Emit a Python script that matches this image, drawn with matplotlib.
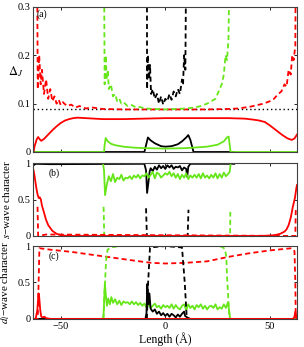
import matplotlib
matplotlib.use('Agg')
import matplotlib.pyplot as plt

plt.rcParams['font.family'] = ['Liberation Serif', 'DejaVu Serif']
plt.rcParams['mathtext.fontset'] = 'stix'

RED = '#ff0000'
GREEN = '#66e619'
BLACK = '#000000'

# ---- panel (a): gap amplitude ----
a_red_dash_x = [-61.3, -61, -60.3, -59.6, -59, -58, -57, -56, -55, -54, -53, -52, -51, -50, -49, -47, -45,
                -43, -41, -38, -35, -30, -20, -10, 0, 10, 20, 30, 35, 38, 41, 44, 47, 50, 52, 54, 55.5,
                57, 58, 59, 60, 60.7, 61.4, 62.2, 62.4]
a_red_dash_y = [0.4, 0.13, 0.2, 0.14, 0.17, 0.12, 0.15, 0.11, 0.13, 0.105, 0.115, 0.1, 0.108, 0.097, 0.103,
                0.095, 0.098, 0.092, 0.095, 0.09, 0.092, 0.089, 0.088, 0.088, 0.088, 0.088, 0.088, 0.089,
                0.09, 0.092, 0.094, 0.097, 0.1, 0.105, 0.11, 0.12, 0.125, 0.14, 0.135, 0.17, 0.16, 0.2,
                0.19, 0.22, 0.4]
a_green_dash_x = [-29.3, -29, -28.5, -28, -27.5, -27, -26, -25, -24, -23, -22, -21, -20, -18, -16, -14, -12,
                  -10, -5, 0, 5, 10, 14, 17, 20, 22, 24, 26, 27, 28, 28.8, 29.5, 30.2, 30.8]
a_green_dash_y = [0.4, 0.14, 0.2, 0.15, 0.17, 0.13, 0.14, 0.115, 0.12, 0.105, 0.11, 0.1, 0.103, 0.095, 0.097,
                  0.092, 0.093, 0.09, 0.089, 0.088, 0.089, 0.09, 0.092, 0.095, 0.1, 0.105, 0.11, 0.13, 0.14,
                  0.16, 0.2, 0.19, 0.23, 0.4]
a_black_dash_x = [-8.8, -8.7, -8.3, -7.8, -7.3, -6.8, -6, -5, -4, -3, -2, -1, 0, 1, 2, 3, 4, 5, 6, 7, 8,
                  8.5, 9, 9.6, 10]
a_black_dash_y = [0.4, 0.13, 0.2, 0.15, 0.18, 0.12, 0.13, 0.11, 0.12, 0.1, 0.115, 0.098, 0.11, 0.105, 0.12,
                  0.108, 0.125, 0.115, 0.13, 0.12, 0.15, 0.14, 0.2, 0.17, 0.4]
a_red_x = [-63, -62.5, -61.5, -60.8, -60, -59.3, -58, -56, -54, -52, -50, -48, -46, -44, -42, -38, -30, -20,
           -10, 0, 10, 20, 30, 38, 42, 45, 47.6, 50, 53, 56, 58.5, 60.5, 61.8, 63]
a_red_y = [0, 0.012, 0.026, 0.031, 0.026, 0.023, 0.027, 0.036, 0.045, 0.053, 0.06, 0.065, 0.068, 0.07,
           0.071, 0.07, 0.068, 0.068, 0.069, 0.07, 0.07, 0.07, 0.07, 0.069, 0.067, 0.065, 0.062, 0.055,
           0.045, 0.035, 0.028, 0.025, 0.028, 0.036]
a_green_x = [-63, -29.3, -29, -28.5, -27.5, -26, -24, -20, -15, -10, 0, 10, 20, 25, 28, 29.5, 30.3, 30.8,
             31.2, 63]
a_green_y = [0, 0, 0.015, 0.029, 0.022, 0.017, 0.014, 0.011, 0.009, 0.008, 0.007, 0.008, 0.011, 0.015,
             0.022, 0.03, 0.032, 0.015, 0, 0]
a_black_x = [-63, -10, -8.3, -7, -5, -2, 0, 3, 6, 8, 10, 11, 12, 13.5, 33]
a_black_y = [0, 0, 0.03, 0.024, 0.018, 0.012, 0.011, 0.012, 0.016, 0.022, 0.03, 0.035, 0.025, 0, 0]
a_ref_level = 0.088

# ---- panel (b): s-wave character ----
b_green_x = [-63, -29.8, -29.3, -28.8, -28, -27, -26, -25, -24, -23, -22, -21, -20, -19, -18, -17, -16,
             -15, -14, -13, -12, -11, -10, -9, -8, -7, -6, -5, -4, -3, -2, 0, 1, 2, 3, 4, 5, 6, 7, 8, 9,
             10, 11, 12, 13, 14, 15, 16, 17, 18, 19, 20, 21, 22, 23, 24, 25, 26, 27, 28, 29, 30, 30.8,
             31.3, 63]
b_green_y = [1, 1, 0.9, 0.56, 0.7, 0.82, 0.75, 0.85, 0.74, 0.8, 0.78, 0.84, 0.76, 0.8, 0.79, 0.82, 0.78,
             0.83, 0.8, 0.84, 0.79, 0.83, 0.82, 0.86, 0.8, 0.84, 0.88, 0.79, 0.87, 0.85, 0.8, 0.86, 0.84,
             0.88, 0.82, 0.86, 0.8, 0.85, 0.78, 0.84, 0.8, 0.86, 0.78, 0.83, 0.8, 0.84, 0.8, 0.85, 0.79,
             0.86, 0.8, 0.83, 0.79, 0.84, 0.8, 0.86, 0.79, 0.85, 0.8, 0.87, 0.82, 0.85, 0.88, 1, 1]
b_black_x = [-63, -62, -55, -10, -9.2, -8.7, -8, -7.5, -7, -6, -5, -4, -3, -2, -1, 0, 1, 2, 3, 4, 5, 6, 7,
             8, 9, 10, 10.5, 11, 12, 33]
b_black_y = [0.97, 0.99, 0.985, 0.99, 0.9, 0.59, 0.75, 0.88, 0.93, 0.89, 0.95, 0.91, 0.97, 0.93, 0.96,
             0.92, 0.97, 0.94, 0.97, 0.92, 0.95, 0.94, 0.96, 0.9, 0.94, 0.92, 0.81, 0.95, 0.99, 0.99]
b_red_x = [-63, -62.5, -62, -61.5, -61, -60.5, -60, -59.5, -59, -58, -57, -56, -55, -54, -52, -50, -48,
           -45, 45, 50, 53, 55, 57, 58, 59, 60, 61, 62, 62.7, 63]
b_red_y = [0.9, 0.82, 0.72, 0.63, 0.56, 0.52, 0.53, 0.5, 0.42, 0.32, 0.22, 0.15, 0.11, 0.07, 0.03, 0.01,
           0.004, 0, 0, 0.005, 0.015, 0.03, 0.06, 0.09, 0.15, 0.25, 0.4, 0.52, 0.66, 0.7]
b_red_dash_x = [-61.1, -60.8, -57, 60, 62.2, 62.4]
b_red_dash_y = [0.4, 0, 0.02, 0, 0, 0.36]
b_green_dash_x = [-29.5, -29.2, 29, 31, 31.1]
b_green_dash_y = [0.4, 0, 0, 0, 0.33]
b_black_dash_x = [-9.2, -8.8, 10.7, 11.1]
b_black_dash_y = [0.38, 0, 0, 0.36]

# ---- panel (c): d-wave character ----
c_red_dash_x = [-63, -61, -60.5, -60.2, -55, -45, -35, -25, -15, -7, 0, 10, 20, 30, 40, 50, 57, 60.5,
                61.8, 62.2, 62.4, 63]
c_red_dash_y = [0, 0, 0.6, 0.97, 0.95, 0.92, 0.88, 0.84, 0.8, 0.77, 0.76, 0.77, 0.79, 0.85, 0.9, 0.94,
                0.96, 0.97, 0.93, 0.5, 0.02, 0]
c_green_dash_x = [-29.6, -29, -28.3, -27.6, -26, -22, 0, 25, 27, 28.5, 29.2, 29.5, 30.5, 31]
c_green_dash_y = [0, 0.4, 0.8, 0.95, 0.98, 1.0, 1.0, 1.0, 0.99, 0.96, 0.85, 0.6, 0.1, 0]
c_black_dash_x = [-8.8, -8.2, -7.3, 0, 8, 9.3, 10.3]
c_black_dash_y = [0, 0.5, 0.98, 1.0, 0.98, 0.5, 0]
c_red_x = [-62, -61.2, -60.6, -60.3, -59.8, -59.3, -58.6, -57.8, -57, -55, 61, 61.7, 62.2, 62.7, 63]
c_red_y = [0, 0.12, 0.35, 0.3, 0.12, 0.03, 0.02, 0.03, 0.01, 0, 0, 0.02, 0.1, 0.04, 0]
c_green_x = [-63, -29.6, -29.3, -28.9, -28.4, -27.9, -27.3, -26.5, -25.8, -25, -24, -23, -22, -21, -20,
             -19, -18, -17, -16, -15, -14, -13, -12, -11, -10, -9, -8, -7, -6, -5, -4, -3, -2, -1, 0, 1,
             2, 3, 4, 5, 6, 7, 8, 9, 10, 11, 12, 13, 14, 15, 16, 17, 18, 19, 20, 21, 22, 23, 24, 25, 26,
             27, 28, 29, 30, 30.5, 31, 63]
c_green_y = [0, 0, 0.2, 0.48, 0.32, 0.18, 0.28, 0.2, 0.3, 0.22, 0.27, 0.2, 0.25, 0.19, 0.24, 0.22, 0.23,
             0.2, 0.24, 0.2, 0.23, 0.19, 0.22, 0.18, 0.21, 0.16, 0.2, 0.15, 0.18, 0.21, 0.16, 0.18, 0.14,
             0.19, 0.16, 0.18, 0.15, 0.2, 0.14, 0.19, 0.15, 0.13, 0.18, 0.2, 0.12, 0.2, 0.15, 0.18, 0.13,
             0.19, 0.16, 0.2, 0.14, 0.18, 0.13, 0.17, 0.18, 0.15, 0.2, 0.13, 0.16, 0.14, 0.2, 0.15, 0.23,
             0.12, 0, 0]
c_black_x = [-63, -9.5, -9, -8.6, -8.1, -7.6, -7, -6, -5, -4, -3, -2, -1, 0, 1, 2, 3, 4, 5, 6, 7, 8, 9,
             9.5, 10.5, 12, 33]
c_black_y = [0, 0, 0.08, 0.48, 0.2, 0.35, 0.14, 0.1, 0.13, 0.07, 0.1, 0.05, 0.08, 0.04, 0.07, 0.03, 0.07,
             0.05, 0.02, 0.06, 0.03, 0.07, 0.1, 0.04, 0.02, 0, 0]

x_ticks = [-50, 0, 50]
x_ticklabels = ['\u221250', '0', '50']
a_yticks = [0, 0.1, 0.2, 0.3]
a_yticklabels = ['0', '0.1', '0.2', '0.3']
bc_yticks = [0, 0.5, 1]
bc_yticklabels = ['0', '0.5', '1']

fig = plt.figure(figsize=(3.04, 3.47), dpi=100)
ax_a = fig.add_axes([0.109, 0.562, 0.868, 0.418])
ax_b = fig.add_axes([0.109, 0.320, 0.868, 0.210])
ax_c = fig.add_axes([0.109, 0.081, 0.868, 0.210])

lw = 1.3
dash = (2.8, 1.8)

# (a)
ax_a.plot(a_black_x, a_black_y, color=BLACK, lw=lw)
ax_a.plot(a_green_x, a_green_y, color=GREEN, lw=lw)
ax_a.plot(a_red_x, a_red_y, color=RED, lw=lw)
ax_a.axhline(a_ref_level, color=BLACK, lw=1.0, ls=(0, (1, 2)))
ax_a.plot(a_red_dash_x, a_red_dash_y, color=RED, lw=lw, dashes=dash)
ax_a.plot(a_green_dash_x, a_green_dash_y, color=GREEN, lw=lw, dashes=dash)
ax_a.plot(a_black_dash_x, a_black_dash_y, color=BLACK, lw=lw, dashes=dash)
ax_a.set_ylim(0, 0.3)
ax_a.set_yticks(a_yticks)
ax_a.set_yticklabels(a_yticklabels)
ax_a.set_ylabel(r'$\Delta_J$', rotation=0, fontsize=9)
ax_a.yaxis.set_label_coords(-0.065, 0.5)
ax_a.text(0.015, 0.985, '(a)', transform=ax_a.transAxes, ha='left', va='top', fontsize=7)

# (b)
ax_b.plot(b_black_x, b_black_y, color=BLACK, lw=lw)
ax_b.plot(b_green_x, b_green_y, color=GREEN, lw=lw)
ax_b.plot(b_green_dash_x, b_green_dash_y, color=GREEN, lw=lw, dashes=dash)
ax_b.plot(b_black_dash_x, b_black_dash_y, color=BLACK, lw=lw, dashes=dash)
ax_b.plot(b_red_dash_x, b_red_dash_y, color=RED, lw=lw, dashes=dash)
ax_b.plot(b_red_x, b_red_y, color=RED, lw=lw)
ax_b.set_ylim(0, 1)
ax_b.set_yticks(bc_yticks)
ax_b.set_yticklabels(bc_yticklabels)
ax_b.set_ylabel(r'$s$' + '\u2212wave character', fontsize=8)
ax_b.yaxis.set_label_coords(-0.08, 0.5)
ax_b.text(0.06, 0.93, '(b)', transform=ax_b.transAxes, ha='left', va='top', fontsize=7)

# (c)
ax_c.plot(c_green_x, c_green_y, color=GREEN, lw=lw)
ax_c.plot(c_black_x, c_black_y, color=BLACK, lw=lw)
ax_c.plot(c_red_dash_x, c_red_dash_y, color=RED, lw=lw, dashes=dash)
ax_c.plot(c_green_dash_x, c_green_dash_y, color=GREEN, lw=lw, dashes=dash)
ax_c.plot(c_black_dash_x, c_black_dash_y, color=BLACK, lw=lw, dashes=dash)
ax_c.plot(c_red_x, c_red_y, color=RED, lw=lw)
ax_c.set_ylim(0, 1)
ax_c.set_yticks(bc_yticks)
ax_c.set_yticklabels(bc_yticklabels)
ax_c.set_ylabel(r'$d_l$' + '\u2212wave character', fontsize=8)
ax_c.yaxis.set_label_coords(-0.08, 0.5)
ax_c.text(0.06, 0.93, '(c)', transform=ax_c.transAxes, ha='left', va='top', fontsize=7)
ax_c.set_xlabel('Length (\u00c5)', fontsize=8.5, labelpad=1)

for ax in (ax_a, ax_b, ax_c):
    ax.set_xlim(-63.2, 63)
    ax.set_xticks(x_ticks)
    ax.tick_params(direction='in', top=True, right=True, length=2.5, width=0.6, labelsize=7.5, pad=2)
    for s in ax.spines.values():
        s.set_linewidth(0.8)
        s.set_color('#404040')
ax_a.set_xticklabels([])
ax_b.set_xticklabels([])
ax_c.set_xticklabels(x_ticklabels)

fig.savefig('out.png', dpi=100)
